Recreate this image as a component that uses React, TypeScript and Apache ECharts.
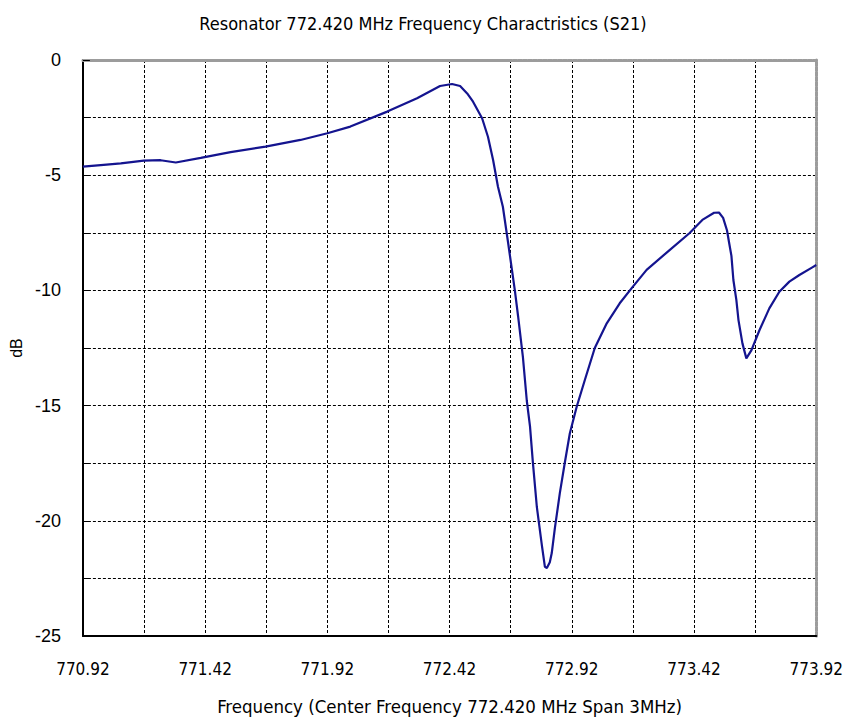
import React, { useEffect, useRef } from "react";
import * as echarts from "echarts";

const TITLE = "Resonator 772.420 MHz Frequency Charactristics (S21)";
const X_NAME = "Frequency (Center Frequency 772.420 MHz Span 3MHz)";
const Y_NAME = "dB";

const START_MHZ = 770.92;
const SPAN_MHZ = 3;
const X_STEP = 0.25;
const Y_MIN = -25;
const Y_MAX = 0;
const Y_STEP = 2.5;

const xTickLabels = ["770.92", "771.42", "771.92", "772.42", "772.92", "773.42", "773.92"];
const yTickLabels = ["-25", "-20", "-15", "-10", "-5", "0"];

const freqMHz = [
  770.92, 770.993, 771.075, 771.169, 771.238, 771.3, 771.402, 771.524, 771.667, 771.81,
  771.92, 772.014, 772.165, 772.287, 772.381, 772.43, 772.463, 772.492, 772.516, 772.553,
  772.577, 772.598, 772.618, 772.638, 772.659, 772.675, 772.687, 772.7, 772.72, 772.736,
  772.749, 772.761, 772.777, 772.798, 772.81, 772.818, 772.83, 772.838, 772.851, 772.871,
  772.891, 772.912, 772.94, 772.973, 773.014, 773.063, 773.116, 773.165, 773.226, 773.32,
  773.401, 773.454, 773.502, 773.522, 773.539, 773.555, 773.563, 773.573, 773.581, 773.593,
  773.602, 773.618, 773.634, 773.655, 773.688, 773.728, 773.769, 773.81, 773.851, 773.904,
  773.92,
];

const s21dB = [
  -4.63, -4.56, -4.49, -4.37, -4.35, -4.45, -4.25, -4.0, -3.76, -3.47,
  -3.18, -2.89, -2.24, -1.66, -1.13, -1.04, -1.13, -1.45, -1.81, -2.53,
  -3.33, -4.34, -5.5, -6.37, -7.9, -9.1, -10.0, -11.1, -12.9, -14.8,
  -15.9, -17.5, -19.4, -21.1, -22.0, -22.05, -21.8, -21.4, -20.3, -18.8,
  -17.5, -16.2, -15.05, -13.9, -12.5, -11.43, -10.56, -9.9, -9.11, -8.25,
  -7.52, -6.94, -6.63, -6.62, -6.85, -7.4, -7.9, -8.5, -9.55, -10.4,
  -11.3, -12.3, -12.95, -12.59, -11.72, -10.78, -10.06, -9.62, -9.33, -9.0,
  -8.9,
];

const NARROW = "'DejaVu Sans Condensed', 'Liberation Sans Narrow', 'Liberation Sans', sans-serif";
const SANS = "'Liberation Sans', Arial, sans-serif";

export default function App() {
  const ref = useRef<HTMLDivElement>(null);

  useEffect(() => {
    if (!ref.current) return;
    const chart = echarts.init(ref.current, undefined, { renderer: "svg" });
    const data = freqMHz.map((f, i) => [+(f - START_MHZ).toFixed(4), s21dB[i]]);
    const gridDash = { color: "#000", width: 1, type: [3, 2] as number[] };

    chart.setOption({
      animation: false,
      backgroundColor: "#fff",
      title: {
        text: TITLE,
        left: "center",
        top: 9,
        textStyle: { fontFamily: NARROW, fontSize: 18, fontWeight: "normal", color: "#000" },
      },
      grid: { left: 82, right: 29, top: 60, bottom: 86, containLabel: false },
      xAxis: [
        {
          type: "value",
          min: 0,
          max: SPAN_MHZ,
          interval: X_STEP,
          name: X_NAME,
          nameLocation: "middle",
          nameGap: 61,
          nameTextStyle: { fontFamily: NARROW, fontSize: 18.5, color: "#000" },
          axisLine: { show: true, onZero: false, lineStyle: { color: "#000", width: 2 } },
          axisTick: { show: false },
          splitLine: { show: true, lineStyle: gridDash },
          axisLabel: {
            margin: 24,
            fontFamily: NARROW,
            fontSize: 17,
            color: "#000",
            formatter: (v: number) => {
              const k = Math.round(v / X_STEP);
              return k % 2 === 0 ? xTickLabels[k / 2] ?? "" : "";
            },
          },
        },
        {
          type: "value",
          position: "top",
          min: 0,
          max: SPAN_MHZ,
          interval: X_STEP,
          axisLine: { show: true, onZero: false, lineStyle: { color: "#9c9c9c", width: 3, type: [4, 1] } },
          axisTick: { show: false },
          axisLabel: { show: false },
          splitLine: { show: false },
        },
      ],
      yAxis: [
        {
          type: "value",
          min: Y_MIN,
          max: Y_MAX,
          interval: Y_STEP,
          name: Y_NAME,
          nameLocation: "middle",
          nameGap: 55,
          nameTextStyle: { fontFamily: SANS, fontSize: 16, color: "#000" },
          axisLine: { show: true, onZero: false, lineStyle: { color: "#000", width: 2 } },
          axisTick: { show: true, inside: true, length: 7, lineStyle: { color: "#000", width: 1 } },
          splitLine: { show: true, lineStyle: gridDash },
          axisLabel: {
            margin: 22,
            fontFamily: SANS,
            fontSize: 18,
            color: "#000",
            formatter: (v: number) => {
              const k = Math.round((v - Y_MIN) / Y_STEP);
              return k % 2 === 0 ? yTickLabels[k / 2] ?? "" : "";
            },
          },
        },
        {
          type: "value",
          position: "right",
          min: Y_MIN,
          max: Y_MAX,
          interval: Y_STEP,
          axisLine: { show: true, onZero: false, lineStyle: { color: "#9c9c9c", width: 3, type: [4, 1] } },
          axisTick: { show: false },
          axisLabel: { show: false },
          splitLine: { show: false },
        },
      ],
      series: [
        {
          type: "line",
          name: "S21",
          xAxisIndex: 0,
          yAxisIndex: 0,
          data,
          showSymbol: false,
          symbol: "none",
          smooth: false,
          lineStyle: { color: "#14148f", width: 2.2 },
          z: 5,
        },
      ],
    });

    return () => chart.dispose();
  }, []);

  return (
    <div
      ref={ref}
      style={{ position: "fixed", left: 0, top: 0, width: 846, height: 722, background: "#fff" }}
    />
  );
}
